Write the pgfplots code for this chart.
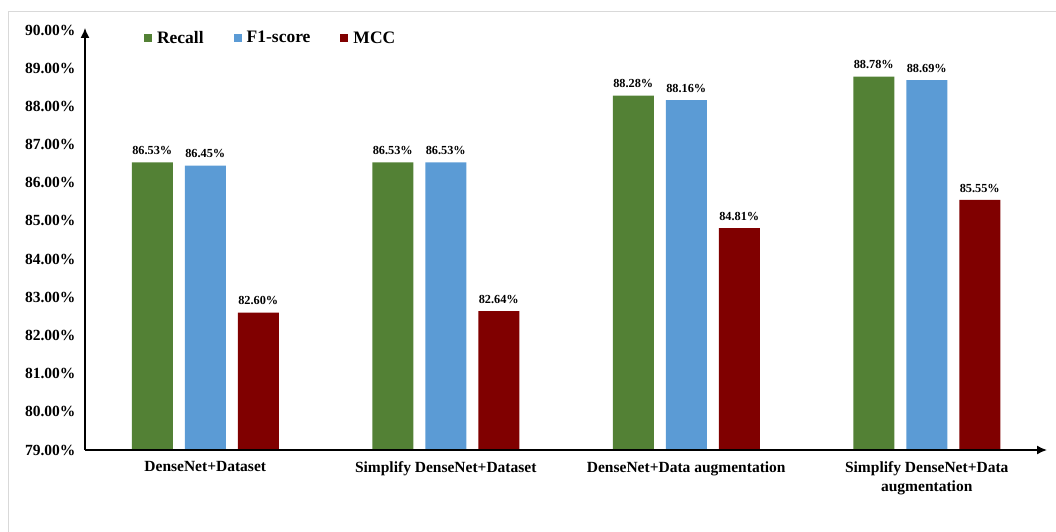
\documentclass[border=0pt]{standalone}
\usepackage{pgfplots}
\pgfplotsset{compat=1.18}
\usetikzlibrary{arrows.meta}
\usepackage{fontspec}
\setmainfont{Liberation Serif}
\definecolor{cgreen}{HTML}{538135}
\definecolor{cblue}{HTML}{5B9BD5}
\definecolor{cred}{HTML}{800000}
\begin{document}
\begin{tikzpicture}
\path[use as bounding box] (-85pt,-82pt) rectangle (971pt,450pt);
\draw[black!15, line width=0.8pt] (-77pt,-82pt) -- (-77pt,439pt) -- (971pt,439pt);
\begin{axis}[
  at={(0pt,0pt)}, anchor=south west,
  scale only axis, width=962pt, height=420pt,
  ybar=12pt, bar width=41pt,
  xmin=-0.5, xmax=3.5, ymin=79, ymax=90,
  enlargelimits=false,
  axis lines=left,
  axis line style={draw=none},
  clip mode=individual,
  major tick length=0pt,
  xtick={0,1,2,3},
  xticklabels={{DenseNet+Dataset},{Simplify DenseNet+Dataset},{DenseNet+Data augmentation},{Simplify DenseNet+Data\\augmentation}},
  xticklabel style={align=center, font=\fontsize{15.5}{19}\selectfont\bfseries, yshift=-8pt},
  ytick={79,80,...,90},
  /pgf/number format/assume math mode=true,
  yticklabel={\pgfmathprintnumber[fixed,fixed zerofill,precision=2]{\tick}\%},
  yticklabel style={font=\fontsize{15.5}{18}\selectfont\bfseries, xshift=-6pt},
  nodes near coords={\pgfmathprintnumber[fixed,fixed zerofill,precision=2,assume math mode=true]{\pgfplotspointmeta}\%},
  every node near coord/.append style={font=\fontsize{12.3}{14}\selectfont\bfseries, yshift=4pt, black},
  legend columns=3,
  legend style={at={(0.193,0.981)}, anchor=center, draw=none, fill=none,
    font=\fontsize{17.5}{20}\selectfont\bfseries,
    /tikz/every odd column/.append style={column sep=3pt},
    /tikz/every even column/.append style={column sep=28pt}},
  legend image code/.code={\fill[#1] (0pt,-4pt) rectangle (8pt,4pt);},
]
\addplot[fill=cgreen, draw=none] coordinates {(0,86.53) (1,86.53) (2,88.28) (3,88.78)};
\addplot[fill=cblue, draw=none] coordinates {(0,86.45) (1,86.53) (2,88.16) (3,88.69)};
\addplot[fill=cred, draw=none] coordinates {(0,82.60) (1,82.64) (2,84.81) (3,85.55)};
\legend{Recall, F1-score, MCC}
\draw[black, line width=1.6pt, -{Latex[length=10pt,width=9pt]}] (rel axis cs:0,0) -- (rel axis cs:0,1.005);
\draw[black, line width=1.6pt, -{Latex[length=10pt,width=9pt]}] (rel axis cs:0,0) -- (rel axis cs:1,0);
\end{axis}
\end{tikzpicture}
\end{document}
